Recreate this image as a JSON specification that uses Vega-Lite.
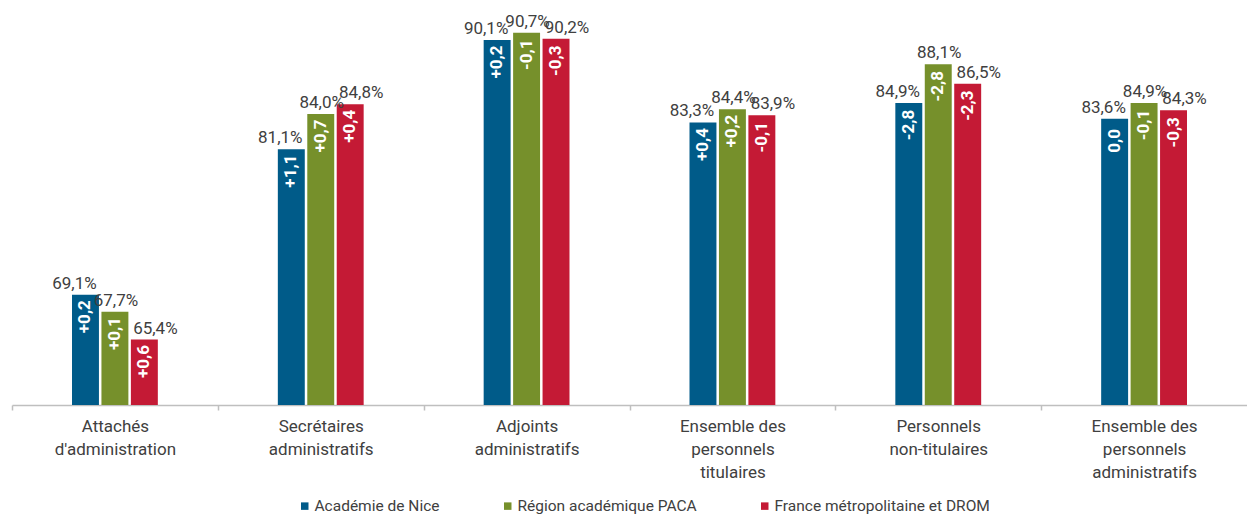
{
  "$schema": "https://vega.github.io/schema/vega-lite/v6.json",
  "autosize": {"type": "none"},
  "padding": {"left": 12, "top": 0, "right": 0, "bottom": 110},
  "width": 1235,
  "height": 405,
  "background": "white",
  "config": {"view": {"stroke": null}, "font": "Roboto"},
  "data": {"values": [
    {"cat": "Attachés|d'administration", "series": "Académie de Nice", "value": 69.1, "lbl": "69,1%", "delta": "+0,2"},
    {"cat": "Attachés|d'administration", "series": "Région académique PACA", "value": 67.7, "lbl": "67,7%", "delta": "+0,1"},
    {"cat": "Attachés|d'administration", "series": "France métropolitaine et DROM", "value": 65.4, "lbl": "65,4%", "delta": "+0,6"},
    {"cat": "Secrétaires|administratifs", "series": "Académie de Nice", "value": 81.1, "lbl": "81,1%", "delta": "+1,1"},
    {"cat": "Secrétaires|administratifs", "series": "Région académique PACA", "value": 84.0, "lbl": "84,0%", "delta": "+0,7"},
    {"cat": "Secrétaires|administratifs", "series": "France métropolitaine et DROM", "value": 84.8, "lbl": "84,8%", "delta": "+0,4"},
    {"cat": "Adjoints|administratifs", "series": "Académie de Nice", "value": 90.1, "lbl": "90,1%", "delta": "+0,2"},
    {"cat": "Adjoints|administratifs", "series": "Région académique PACA", "value": 90.7, "lbl": "90,7%", "delta": "-0,1"},
    {"cat": "Adjoints|administratifs", "series": "France métropolitaine et DROM", "value": 90.2, "lbl": "90,2%", "delta": "-0,3"},
    {"cat": "Ensemble des|personnels|titulaires", "series": "Académie de Nice", "value": 83.3, "lbl": "83,3%", "delta": "+0,4"},
    {"cat": "Ensemble des|personnels|titulaires", "series": "Région académique PACA", "value": 84.4, "lbl": "84,4%", "delta": "+0,2"},
    {"cat": "Ensemble des|personnels|titulaires", "series": "France métropolitaine et DROM", "value": 83.9, "lbl": "83,9%", "delta": "-0,1"},
    {"cat": "Personnels|non-titulaires", "series": "Académie de Nice", "value": 84.9, "lbl": "84,9%", "delta": "-2,8"},
    {"cat": "Personnels|non-titulaires", "series": "Région académique PACA", "value": 88.1, "lbl": "88,1%", "delta": "-2,8"},
    {"cat": "Personnels|non-titulaires", "series": "France métropolitaine et DROM", "value": 86.5, "lbl": "86,5%", "delta": "-2,3"},
    {"cat": "Ensemble des|personnels|administratifs", "series": "Académie de Nice", "value": 83.6, "lbl": "83,6%", "delta": "0,0"},
    {"cat": "Ensemble des|personnels|administratifs", "series": "Région académique PACA", "value": 84.9, "lbl": "84,9%", "delta": "-0,1"},
    {"cat": "Ensemble des|personnels|administratifs", "series": "France métropolitaine et DROM", "value": 84.3, "lbl": "84,3%", "delta": "-0,3"}
  ]},
  "encoding": {
    "x": {
      "field": "cat", "type": "nominal", "sort": null,
      "scale": {"paddingInner": 0.583, "paddingOuter": 0.2915},
      "axis": {
        "title": null, "labelAngle": 0, "labelExpr": "split(datum.label, '|')",
        "labelFont": "Roboto", "labelFontSize": 17, "labelColor": "#404040", "labelLineHeight": 23,
        "labelPadding": 8, "ticks": true, "tickSize": 5, "tickColor": "#BFBFBF", "tickWidth": 1.5,
        "tickOffset": -102.9, "labelOffset": 102.9,
        "domainColor": "#BFBFBF", "domainWidth": 1.5, "grid": false
      }
    },
    "y": {
      "field": "value", "type": "quantitative",
      "scale": {"domain": [60, 93.4], "zero": false, "nice": false},
      "axis": null
    },
    "xOffset": {
      "field": "series", "type": "nominal",
      "sort": ["Académie de Nice", "Région académique PACA", "France métropolitaine et DROM"],
      "scale": {"paddingInner": 0.085, "paddingOuter": 0}
    }
  },
  "layer": [
    {
      "mark": {"type": "bar"},
      "encoding": {
        "y2": {"datum": 60},
        "color": {
          "field": "series", "type": "nominal",
          "scale": {
            "domain": ["Académie de Nice", "Région académique PACA", "France métropolitaine et DROM"],
            "range": ["#005B89", "#76902B", "#C41A35"]
          },
          "legend": {
            "title": null, "orient": "none", "direction": "horizontal",
            "legendX": 285, "legendY": 498,
            "symbolType": "square", "symbolSize": 56, "symbolStrokeWidth": 0,
            "labelFont": "Roboto", "labelFontSize": 15.5, "labelColor": "#404040",
            "labelOffset": 2, "columnPadding": 60, "labelLimit": 0
          }
        }
      }
    },
    {
      "transform": [{"filter": "datum.series === 'Académie de Nice'"}],
      "mark": {"type": "text", "font": "Roboto", "fontSize": 17, "color": "#404040", "baseline": "alphabetic", "dy": -6, "dx": -11},
      "encoding": {"text": {"field": "lbl"}}
    },
    {
      "transform": [{"filter": "datum.series === 'Région académique PACA'"}],
      "mark": {"type": "text", "font": "Roboto", "fontSize": 17, "color": "#404040", "baseline": "alphabetic", "dy": -6, "dx": 1},
      "encoding": {"text": {"field": "lbl"}}
    },
    {
      "transform": [{"filter": "datum.series === 'France métropolitaine et DROM'"}],
      "mark": {"type": "text", "font": "Roboto", "fontSize": 17, "color": "#404040", "baseline": "alphabetic", "dy": -6, "dx": 11},
      "encoding": {"text": {"field": "lbl"}}
    },
    {
      "mark": {"type": "text", "font": "Roboto", "fontSize": 17, "fontWeight": "bold", "color": "white", "angle": 270, "align": "center", "baseline": "middle", "dx": -22},
      "encoding": {"text": {"field": "delta"}}
    }
  ]
}
